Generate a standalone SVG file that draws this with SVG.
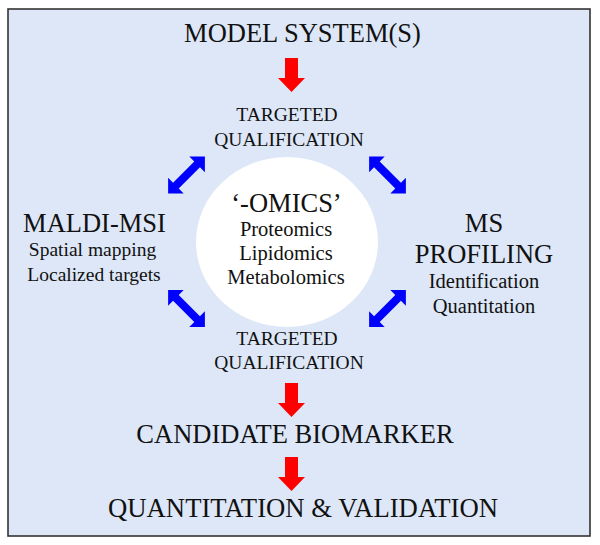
<svg xmlns="http://www.w3.org/2000/svg" width="600" height="545" viewBox="0 0 600 545">
<defs>
<style>
.t{font-family:'Liberation Serif',serif;fill:#111;text-anchor:middle}
.big{font-size:26.5px}
.mid{font-size:19.5px}
.sm{font-size:20.5px}
.red{fill:#ff0000}
.blue{fill:#0000ff}
</style>
<polygon id="dbl" points="-26,0 -15,-11 -15,-4 15,-4 15,-11 26,0 15,11 15,4 -15,4 -15,11"/>
<polygon id="down" points="-6.5,0 6.5,0 6.5,20 13.5,20 0,34 -13.5,20 -6.5,20"/>
</defs>
<rect x="0" y="0" width="600" height="545" fill="#ffffff"/>
<rect x="8" y="9" width="582" height="527" fill="#dde7f7" stroke="#333" stroke-width="1.6"/>

<g class="t" font-family="Liberation Serif, serif">
<g id="omics">
<ellipse cx="287" cy="242" rx="91" ry="85" fill="#ffffff"/>
<text class="big" x="286.5" y="212" font-size="27">‘-OMICS’</text>
<text class="sm" x="286" y="236">Proteomics</text>
<text class="sm" x="286" y="260">Lipidomics</text>
<text class="sm" x="286" y="284">Metabolomics</text>
</g>

<g id="model">
<text class="big" x="302.5" y="42">MODEL SYSTEM(S)</text>
</g>

<g id="tq-top">
<text class="mid" x="287" y="121">TARGETED</text>
<text class="mid" x="289" y="146">QUALIFICATION</text>
</g>

<g id="maldi">
<text class="big" x="94.5" y="232">MALDI-MSI</text>
<text class="mid" x="92.5" y="256">Spatial mapping</text>
<text class="mid" x="94" y="281">Localized targets</text>
</g>

<g id="msprof">
<text class="big" x="484" y="232">MS</text>
<text class="big" x="484" y="263">PROFILING</text>
<text class="sm" x="484" y="288">Identification</text>
<text class="sm" x="484" y="313">Quantitation</text>
</g>

<g id="tq-bottom">
<text class="mid" x="287" y="345">TARGETED</text>
<text class="mid" x="289" y="369">QUALIFICATION</text>
</g>

<g id="candidate">
<text class="big" x="295" y="443">CANDIDATE BIOMARKER</text>
</g>

<g id="quant">
<text class="big" x="303" y="517" textLength="390" lengthAdjust="spacingAndGlyphs">QUANTITATION &amp; VALIDATION</text>
</g>
</g>

<g id="connectors">
<use href="#down" class="red" transform="translate(291.5,58)"/>
<use href="#down" class="red" transform="translate(291.5,383)"/>
<use href="#down" class="red" transform="translate(291.5,457)"/>
<use href="#dbl" class="blue" transform="translate(186.5,175) rotate(-45)"/>
<use href="#dbl" class="blue" transform="translate(387.5,175) rotate(45)"/>
<use href="#dbl" class="blue" transform="translate(186.5,308.5) rotate(45)"/>
<use href="#dbl" class="blue" transform="translate(387.5,308.5) rotate(-45)"/>
</g>
</svg>
